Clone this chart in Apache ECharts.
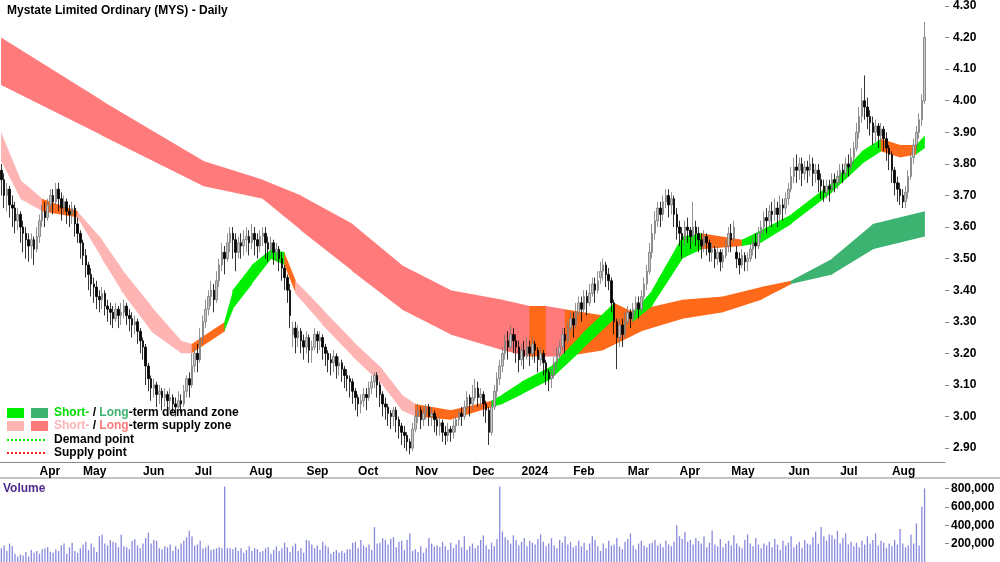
<!DOCTYPE html>
<html><head><meta charset="utf-8">
<script src="https://cdn.jsdelivr.net/npm/echarts@6/dist/echarts.min.js"></script>
<style>html,body{margin:0;padding:0;background:#fff}#c{width:1000px;height:562px}</style>
</head><body><div id="c"></div>
<script>
// Candles [open, close, low, high] in cents
const candles = [
[378,375,370,380],[375,370,366,377],[370,372,365,374],[372,367,363,373],[367,366,360,370],[366,362,358,368],[362,364,359,366],[364,360,355,365],[360,358,352,362],[358,356,350,360],
[356,354,349,358],[354,356,350,358],[356,353,348,357],[353,357,352,360],[357,362,355,364],[362,365,360,367],[365,363,360,368],[363,367,362,369],[367,370,365,372],[370,368,364,372],
[368,372,367,374],[372,369,365,374],[369,366,362,371],[366,368,364,370],[368,365,361,369],[365,364,360,367],[364,366,361,368],[366,361,357,367],[361,358,355,363],[358,355,350,359],
[355,351,348,356],[351,348,344,353],[348,345,340,349],[345,342,338,347],[342,341,336,344],[341,338,334,343],[338,337,333,340],[337,339,334,341],[339,335,332,340],[335,334,330,337],
[334,333,329,336],[333,331,328,335],[331,334,330,336],[334,332,328,335],[332,333,329,336],[333,335,331,337],[335,332,329,336],[332,331,327,334],[331,329,325,333],[329,330,326,332],
[330,327,323,331],[327,324,320,328],[324,322,318,325],[322,316,310,323],[316,312,308,317],[312,309,305,313],[309,310,306,312],[310,307,303,311],[307,308,304,310],[308,306,302,309],
[306,307,303,309],[307,305,302,308],[305,306,302,309],[306,304,301,307],[304,303,300,306],[303,305,302,308],[305,304,301,307],[304,308,303,310],[308,312,306,313],[312,310,306,314],
[310,316,309,320],[316,320,314,322],[320,318,314,323],[318,325,317,328],[325,330,323,332],[330,334,328,337],[334,338,332,340],[338,340,335,343],[340,337,333,342],[337,343,336,346],
[343,348,341,350],[348,352,346,355],[352,350,345,354],[350,355,349,358],[355,358,352,360],[358,356,350,360],[356,352,346,358],[352,355,350,357],[355,354,350,358],[354,356,351,359],
[356,357,352,360],[357,355,351,359],[355,358,353,361],[358,356,351,360],[356,354,350,358],[354,357,352,359],[357,358,354,360],[358,355,350,360],[355,353,349,357],[353,355,351,357],
[355,352,348,356],[352,353,349,355],[353,350,346,354],[350,347,343,352],[347,344,340,348],[344,340,336,345],[340,332,328,342],[326,328,322,330],[328,325,320,330],[325,327,322,329],
[327,324,320,328],[324,322,318,326],[322,325,320,327],[325,321,317,326],[321,322,317,324],[322,326,321,328],[326,324,320,327],[324,325,321,327],[325,322,318,326],[322,320,316,323],
[320,318,314,321],[318,317,313,320],[317,319,314,321],[319,316,312,320],[316,317,313,319],[317,315,311,318],[315,313,309,316],[313,312,308,315],[312,311,306,313],[311,308,304,312],
[308,306,302,309],[306,304,300,307],[304,305,301,307],[305,307,303,309],[307,306,302,309],[306,309,305,311],[309,311,307,313],[311,313,309,314],[313,310,306,314],[310,307,303,311],
[307,304,300,308],[304,303,299,306],[303,301,297,304],[301,300,296,302],[300,302,297,303],[302,299,295,303],[299,297,293,300],[297,295,291,298],[295,294,290,297],[294,292,289,295],
[292,290,288,293],[290,296,289,298],[296,300,295,302],[300,302,298,304],[302,299,296,303],[299,301,297,303],[301,303,299,304],[303,300,297,304],[300,301,297,303],[301,299,295,302],
[299,297,294,300],[297,298,294,300],[298,295,292,299],[295,294,291,297],[294,296,292,298],[296,295,292,297],[295,297,293,299],[297,299,295,300],[299,301,297,302],[301,300,297,303],
[300,303,299,305],[303,306,302,308],[306,304,300,307],[304,306,302,310],[306,309,305,312],[309,306,303,311],[306,307,303,309],[307,304,300,308],[304,302,298,305],[302,295,291,303],
[295,303,294,305],[303,308,302,310],[308,312,306,314],[312,316,310,318],[316,320,314,322],[320,324,318,326],[324,322,318,327],[322,326,321,329],[326,324,320,328],[324,322,317,326],
[322,318,314,324],[318,321,316,323],[321,319,315,324],[319,322,318,325],[322,320,316,324],[320,323,318,325],[323,321,317,324],[321,318,314,322],[318,320,316,322],[320,317,313,321],
[317,314,310,318],[314,312,308,315],[312,313,309,315],[313,317,312,319],[317,320,315,322],[320,322,318,324],[322,326,321,328],[326,324,320,328],[324,328,323,330],[328,331,327,333],
[331,329,325,333],[329,333,328,336],[333,336,332,338],[336,334,330,338],[334,338,333,340],[338,336,332,340],[336,339,335,342],[339,342,338,344],[342,340,336,344],[340,343,339,346],
[344,346,342,349],[346,348,343,350],[348,345,341,349],[345,343,340,347],[343,336,333,344],[336,330,326,337],[330,325,315,331],[325,329,322,331],[329,326,322,331],[326,330,325,333],
[330,333,329,335],[333,331,328,334],[331,334,330,336],[334,336,332,338],[336,334,331,338],[334,338,333,340],[338,342,337,344],[342,346,340,348],[346,352,345,355],[352,358,350,361],
[358,362,356,365],[362,366,360,368],[366,364,360,368],[364,368,362,370],[368,370,366,372],[370,367,363,372],[367,369,364,371],[369,364,360,370],[364,360,356,366],[360,358,354,362],
[358,356,350,360],[356,360,354,362],[360,359,355,363],[359,357,353,360],[357,360,355,368],[360,358,354,362],[358,356,352,360],[356,354,350,358],[354,357,352,359],[357,355,351,358],
[355,352,349,356],[352,353,349,355],[353,350,347,354],[350,352,348,354],[352,349,346,353],[349,351,347,353],[351,354,350,356],[354,358,352,360],[358,356,352,361],[356,360,355,362],
[352,350,347,354],[350,348,345,352],[348,351,347,353],[351,349,346,352],[349,350,346,352],[350,353,349,355],[353,355,351,357],[355,354,350,358],[354,358,353,360],[358,360,356,362],
[360,363,358,365],[363,362,358,366],[362,365,360,367],[365,364,360,368],[364,366,362,369],[366,364,360,368],[364,367,362,370],[367,366,362,369],[366,369,364,371],[369,372,367,374],
[372,376,371,379],[376,379,374,382],[379,378,374,383],[378,380,375,382],[380,377,373,382],[377,379,375,381],[379,378,374,381],[378,380,376,383],[380,377,373,382],[377,378,374,380],
[378,375,371,380],[375,373,369,377],[373,371,368,375],[371,373,369,375],[373,372,368,375],[372,375,371,377],[375,374,371,377],[374,376,372,378],[376,378,374,380],[378,377,374,380],
[377,380,376,382],[380,379,376,383],[379,382,378,385],[382,385,380,387],[385,390,384,393],[390,395,388,398],[395,400,393,404],[400,398,394,408],[398,395,391,401],[395,393,389,397],
[393,390,386,395],[390,392,387,394],[392,389,385,393],[389,391,387,393],[391,388,384,392],[388,385,381,390],[385,383,378,386],[383,378,374,384],[378,374,370,379],[374,372,368,376],
[372,370,367,374],[370,368,366,372],[368,371,366,373],[371,376,369,378],[376,382,375,384],[382,386,380,388],[386,390,384,392],[390,394,388,396],[394,400,392,402],[400,420,399,425]
];
// Volume in thousands
const volume = [
150,180,120,200,170,90,60,80,70,110,60,130,100,120,90,140,150,160,110,100,
140,120,180,200,90,160,210,120,100,150,190,220,130,200,160,110,280,300,200,180,
240,220,210,160,300,170,160,140,230,250,180,150,200,260,320,200,240,230,150,140,
170,160,190,120,170,140,200,230,270,340,280,180,190,230,150,160,180,130,140,150,
160,150,820,150,150,140,160,120,150,100,130,170,120,150,140,110,120,150,160,90,
130,170,120,150,210,160,110,170,200,120,150,100,240,230,190,150,180,130,220,180,
160,90,110,130,100,120,100,140,140,210,220,150,240,180,160,190,130,380,200,210,
260,240,190,250,270,160,220,230,130,240,310,120,140,110,170,100,150,260,200,170,
180,160,220,170,130,210,150,190,240,160,280,130,170,200,150,180,240,290,180,140,
210,170,250,820,330,270,240,200,290,240,180,220,260,170,230,210,190,250,300,220,
170,200,260,180,150,240,210,280,190,220,160,180,230,170,210,130,200,280,240,170,
120,200,150,230,180,190,260,170,140,220,250,310,180,140,200,230,180,160,200,210,
240,180,200,160,230,190,170,220,400,280,250,330,220,240,190,260,230,200,280,160,
210,340,190,170,250,160,200,230,180,290,200,170,150,240,300,200,170,260,190,150,
200,180,220,160,250,190,130,230,180,210,280,160,190,220,150,240,200,190,270,330,
200,380,280,230,300,290,250,340,200,260,310,190,220,170,210,160,230,190,280,200,
240,310,180,230,210,150,200,170,240,190,360,200,160,180,300,200,420,180,
600,800
];
// Bands: [index, low, high, state]
const longBand = [
[0,4.05,4.20,'R'],[37,3.89,4.00,'R'],[74,3.73,3.81,'R'],[96,3.69,3.75,'R'],[110,3.59,3.70,'R'],
[129,3.46,3.61,'R'],[147,3.34,3.48,'R'],[165,3.26,3.40,'R'],[184,3.21,3.37,'R'],[194,3.19,3.35,'O'],
[200,3.19,3.35,'R'],[207,3.19,3.34,'O'],[221,3.21,3.32,'O'],[235,3.27,3.34,'O'],[250,3.31,3.37,'O'],
[265,3.33,3.38,'O'],[279,3.37,3.41,'O'],[290,3.42,3.43,'G'],[305,3.45,3.50,'G'],[320,3.53,3.61,'G'],[339,3.57,3.65,'G']
];
const shortBand = [
[0,3.81,3.90,'P'],[7,3.69,3.75,'P'],[15,3.65,3.69,'O'],[28,3.63,3.65,'P'],[37,3.50,3.56,'P'],
[44,3.40,3.47,'P'],[55,3.27,3.35,'P'],[66,3.20,3.24,'P'],[70,3.20,3.23,'O'],[82,3.27,3.30,'G'],
[85,3.34,3.40,'G'],[92,3.42,3.48,'G'],[99,3.50,3.53,'G'],[104,3.48,3.52,'O'],[108,3.39,3.43,'P'],
[118,3.29,3.34,'P'],[129,3.19,3.24,'P'],[140,3.10,3.15,'P'],[147,3.02,3.07,'P'],[152,3.00,3.04,'O'],
[165,2.99,3.02,'O'],[180,3.03,3.05,'G'],[184,3.04,3.07,'G'],[191,3.07,3.11,'G'],[202,3.12,3.16,'G'],
[213,3.21,3.26,'G'],[225,3.31,3.36,'O'],[232,3.30,3.33,'G'],[239,3.35,3.40,'G'],[250,3.50,3.57,'G'],
[257,3.53,3.58,'O'],[272,3.54,3.56,'G'],[279,3.55,3.59,'G'],[290,3.61,3.64,'G'],[305,3.71,3.74,'G'],
[316,3.80,3.84,'G'],[323,3.84,3.88,'O'],[330,3.82,3.86,'O'],[336,3.83,3.86,'G'],[339,3.85,3.89,'G']
];
const monthStarts = [14,30,52,71,91,112,131,152,173,191,210,230,249,268,289,308,327];
const monthLabels = ['Apr','May','Jun','Jul','Aug','Sep','Oct','Nov','Dec','2024','Feb','Mar','Apr','May','Jun','Jul','Aug'];
const priceTicks = [2.9,3.0,3.1,3.2,3.3,3.4,3.5,3.6,3.7,3.8,3.9,4.0,4.1,4.2,4.3];
const volTicks = [200000,400000,600000,800000];

const NCAT = 347;
const cats = Array.from({length:NCAT},(_,i)=>String(i));
const longColors = {R:'#ff7a7a',O:'#ff6a1a',G:'#3cb371'};
const shortColors = {P:'#ffb4b4',O:'#ff6a1a',G:'#00ee00'};
const FONT = 'Liberation Sans';

function bandSeries(band, colors, z){
  return {
    type:'custom', xAxisIndex:0, yAxisIndex:0, z:z, silent:true,
    data: band.slice(0,-1).map((b,i)=>[b[0],b[1],b[2],i]),
    encode:{x:0,y:[1,2]},
    renderItem:function(params,api){
      const i = api.value(3);
      const a = band[i], b = band[i+1];
      const p1 = api.coord([a[0],a[2]]), p2 = api.coord([b[0],b[2]]);
      const p3 = api.coord([b[0],b[1]]), p4 = api.coord([a[0],a[1]]);
      return {type:'polygon', shape:{points:[[p1[0]-0.3,p1[1]],[p2[0]+0.3,p2[1]],[p3[0]+0.3,p3[1]],[p4[0]-0.3,p4[1]]]},
        style:{fill:colors[a[3]]}};
    }
  };
}

const chart = echarts.init(document.getElementById('c'));
const msSet = new Set(monthStarts);
chart.setOption({
  animation:false,
  backgroundColor:'#fff',
  title:{text:'Mystate Limited Ordinary (MYS) - Daily', left:2, top:0,
    textStyle:{fontFamily:FONT,fontSize:12,fontWeight:'bold',color:'#000'}},
  grid:[{left:0,right:55,top:6,bottom:100},{left:0,right:55,top:482,bottom:0}],
  xAxis:[
    {type:'category',gridIndex:0,data:cats,boundaryGap:true,
     axisLine:{lineStyle:{color:'#888',width:1}},
     axisTick:{interval:(i)=>msSet.has(i),lineStyle:{color:'#888'},length:4,inside:true},
     axisLabel:{interval:(i)=>msSet.has(i),formatter:(v,i)=>monthLabels[monthStarts.indexOf(Number(v))]||'',
       fontFamily:FONT,fontSize:12,fontWeight:'bold',color:'#000',align:'left',margin:4},
     splitLine:{show:false}},
    {type:'category',gridIndex:1,data:cats,boundaryGap:true,axisLine:{show:false},axisTick:{show:false},axisLabel:{show:false}}
  ],
  yAxis:[
    {type:'value',gridIndex:0,position:'right',min:2.856,max:4.30,
     axisLine:{show:false},splitLine:{show:false},
     axisTick:{show:true,customValues:priceTicks,length:4,lineStyle:{color:'#888'}},
     axisLabel:{customValues:priceTicks,formatter:v=>v.toFixed(2),fontFamily:FONT,fontSize:12,fontWeight:'bold',color:'#000',margin:8}},
    {type:'value',gridIndex:1,position:'right',min:0,max:870000,
     axisLine:{show:false},splitLine:{show:false},
     axisTick:{show:true,customValues:volTicks,length:4,lineStyle:{color:'#888'}},
     axisLabel:{customValues:volTicks,formatter:v=>v.toLocaleString('en-US'),fontFamily:FONT,fontSize:12,fontWeight:'bold',color:'#000',margin:6}}
  ],
  series:[
    bandSeries(longBand,longColors,1),
    bandSeries(shortBand,shortColors,2),
    {type:'candlestick',xAxisIndex:0,yAxisIndex:0,z:5,barWidth:2,
     data:candles.map(c=>c.map(v=>v/100)),
     itemStyle:{color:'#c8c8c8',color0:'#000',borderColor:'#777',borderColor0:'#000',borderWidth:0.8}},
    {type:'bar',xAxisIndex:1,yAxisIndex:1,barWidth:1.3,
     data:volume.map(v=>v*1000),itemStyle:{color:'#8888dd'}}
  ],
  graphic:[
    {type:'line',shape:{x1:0,y1:478,x2:1000,y2:478},style:{stroke:'#888',lineWidth:1}},
    {type:'text',left:3,top:483,style:{text:'Volume',fill:'#4b2a8c',font:'bold 12px "Liberation Sans"'}},
    {type:'rect',shape:{x:7,y:408,width:17,height:10},style:{fill:'#00ee00'}},
    {type:'rect',shape:{x:31,y:408,width:17,height:10},style:{fill:'#3cb371'}},
    {type:'rect',shape:{x:7,y:421,width:17,height:10},style:{fill:'#ffb4b4'}},
    {type:'rect',shape:{x:31,y:421,width:17,height:10},style:{fill:'#ff7a7a'}},
    {type:'line',shape:{x1:7,y1:440,x2:47,y2:440},style:{stroke:'#00ee00',lineWidth:2,lineDash:[2,2]}},
    {type:'line',shape:{x1:7,y1:453,x2:47,y2:453},style:{stroke:'#ff2020',lineWidth:2,lineDash:[2,2]}},
    {type:'text',left:54,top:407,style:{rich:{a:{fill:'#00dd00',font:'bold 12px "Liberation Sans"'},b:{fill:'#000',font:'bold 12px "Liberation Sans"'},c:{fill:'#3cb371',font:'bold 12px "Liberation Sans"'}},text:'{a|Short-}{b| / }{c|Long}{b|-term demand zone}'}},
    {type:'text',left:54,top:420,style:{rich:{a:{fill:'#ffb4b4',font:'bold 12px "Liberation Sans"'},b:{fill:'#000',font:'bold 12px "Liberation Sans"'},c:{fill:'#ff7a7a',font:'bold 12px "Liberation Sans"'}},text:'{a|Short-}{b| / }{c|Long}{b|-term supply zone}'}},
    {type:'text',left:54,top:434,style:{text:'Demand point',fill:'#000',font:'bold 12px "Liberation Sans"'}},
    {type:'text',left:54,top:447,style:{text:'Supply point',fill:'#000',font:'bold 12px "Liberation Sans"'}}
  ]
});
</script></body></html>
